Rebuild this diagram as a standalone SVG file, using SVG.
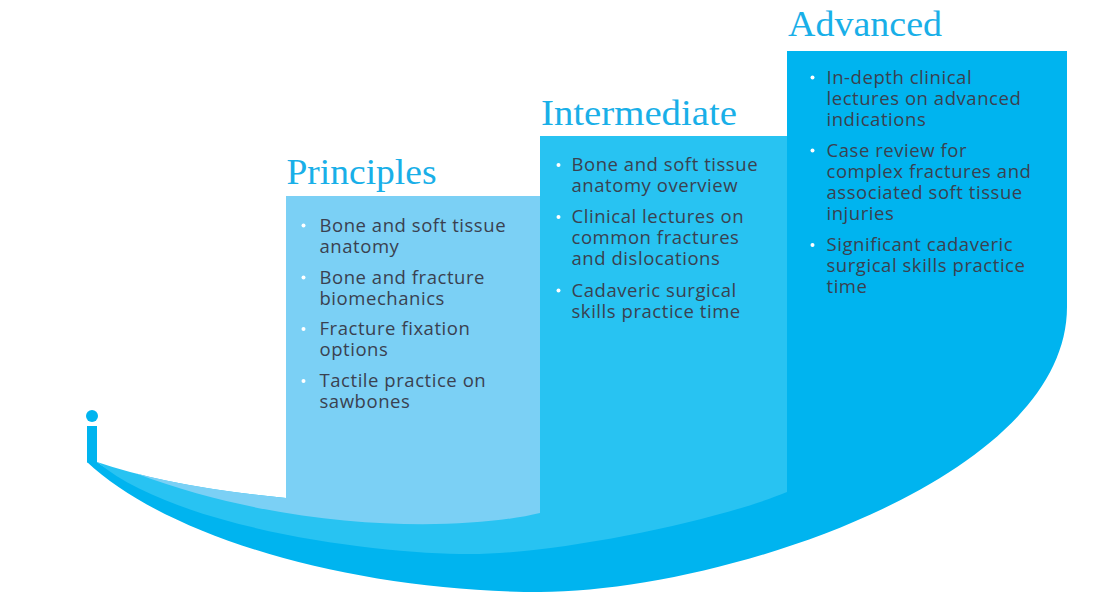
<svg xmlns="http://www.w3.org/2000/svg" width="1101" height="610" viewBox="0 0 1101 610">
<style>
.dark{fill:#00b4ef}
.mid{fill:#28c3f2}
.light{fill:#7bd0f5}
.title{font-family:"Liberation Serif","DejaVu Serif",serif;font-size:35px;fill:#19afe8}
.body{font-family:"Open Sans","Liberation Sans",sans-serif;font-size:18.5px;letter-spacing:0.55px;fill:#3a4150}
.dot{fill:#ffffff}
</style>
<rect width="1101" height="610" fill="#ffffff"/>
<g id="logo-i">
<circle class="dark" cx="92" cy="416" r="6"/>
<rect class="dark" x="87" y="426" width="10" height="36.5"/>
</g>
<g id="advanced">
<path class="dark" d="M87,462 C170,540 360,592 540,592 C720,592 1067,480 1067,307 L1067,51 L787,51 L787,480 C720,510 560,544 470,544 C380,544 180,520 97,462 Z"/>
<text class="title" x="788" y="36" textLength="154" lengthAdjust="spacingAndGlyphs">Advanced</text>
<g class="body">
<circle class="dot" cx="812.5" cy="77.5" r="2"/>
<text x="826.5" y="83.5">In-depth clinical</text>
<text x="826.5" y="104.5">lectures on advanced</text>
<text x="826.5" y="125.5">indications</text>
<circle class="dot" cx="812.5" cy="150.5" r="2"/>
<text x="826.5" y="156.5">Case review for</text>
<text x="826.5" y="177.5">complex fractures and</text>
<text x="826.5" y="198.5">associated soft tissue</text>
<text x="826.5" y="219.5">injuries</text>
<circle class="dot" cx="812.5" cy="245" r="2"/>
<text x="826.5" y="251">Significant cadaveric</text>
<text x="826.5" y="272">surgical skills practice</text>
<text x="826.5" y="293">time</text>
</g>
</g>
<g id="intermediate">
<path class="mid" d="M97,462 Q170,487 286,498 L286,400 L540,400 L540,136 L787,136 L787,492 C720,520 560,554 470,554 C380,554 180,530 97,462 Z"/>
<text class="title" x="541" y="125" textLength="196" lengthAdjust="spacingAndGlyphs">Intermediate</text>
<g class="body">
<circle class="dot" cx="558.5" cy="165" r="2"/>
<text x="571.5" y="171">Bone and soft tissue</text>
<text x="571.5" y="192">anatomy overview</text>
<circle class="dot" cx="558.5" cy="217" r="2"/>
<text x="571.5" y="223">Clinical lectures on</text>
<text x="571.5" y="244">common fractures</text>
<text x="571.5" y="265">and dislocations</text>
<circle class="dot" cx="558.5" cy="290.5" r="2"/>
<text x="571.5" y="296.5">Cadaveric surgical</text>
<text x="571.5" y="317.5">skills practice time</text>
</g>
</g>
<g id="principles">
<path class="light" d="M136.2,473.6 Q199,489.75 286,498 L286,196 L540,196 L540,513 C470,530 300,535 136.2,473.6 Z"/>
<text class="title" x="286.5" y="183.5" textLength="150" lengthAdjust="spacingAndGlyphs">Principles</text>
<g class="body">
<circle class="dot" cx="303.5" cy="225.5" r="2"/>
<text x="319.5" y="231.5">Bone and soft tissue</text>
<text x="319.5" y="252.5">anatomy</text>
<circle class="dot" cx="303.5" cy="277.5" r="2"/>
<text x="319.5" y="283.5">Bone and fracture</text>
<text x="319.5" y="304.5">biomechanics</text>
<circle class="dot" cx="303.5" cy="329" r="2"/>
<text x="319.5" y="335">Fracture fixation</text>
<text x="319.5" y="356">options</text>
<circle class="dot" cx="303.5" cy="381" r="2"/>
<text x="319.5" y="387">Tactile practice on</text>
<text x="319.5" y="408">sawbones</text>
</g>
</g>
<g id="connectors"/>
</svg>
